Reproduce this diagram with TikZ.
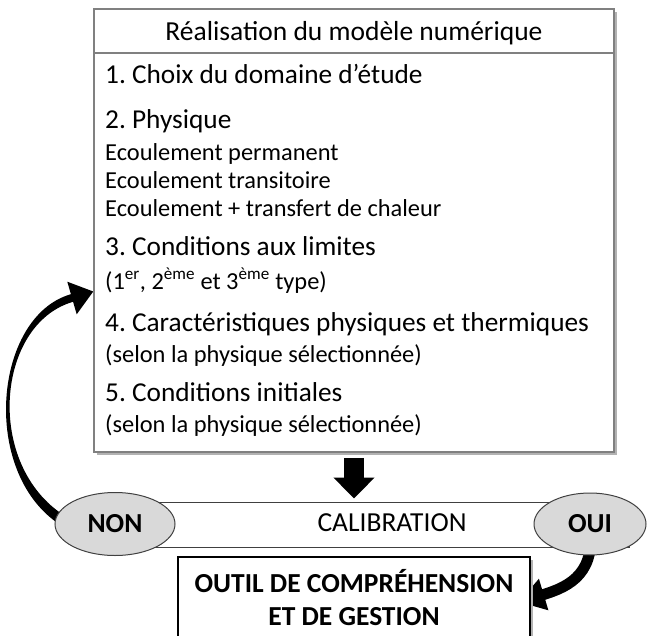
\documentclass[tikz,border=0pt]{standalone}
\usepackage{fontspec}
\setmainfont{Carlito}
\usetikzlibrary{shapes.geometric,arrows.meta}
\pgfdeclarelayer{back}
\pgfsetlayers{back,main}
\definecolor{boxgray}{HTML}{808080}
\definecolor{darkline}{HTML}{404040}
\definecolor{ellfill}{HTML}{D9D9D9}
\tikzset{
  big/.style={font=\fontsize{27.3}{33}\selectfont, anchor=west, inner sep=0pt, text height=19pt, text depth=6pt},
  small/.style={font=\fontsize{24.4}{29}\selectfont, anchor=west, inner sep=0pt, text height=17pt, text depth=5pt},
  ell/.style={ellipse, draw=darkline, line width=1pt, fill=ellfill, inner sep=0pt, font=\fontsize{27.5}{33}\selectfont\bfseries},
  shadowed/.style={preaction={fill=black!30, transform canvas={xshift=3pt, yshift=-3pt}}},
  bigarrow/.style={line width=20pt, -{Triangle[length=21pt, width=40pt]}},
  ouiarrow/.style={line width=11pt, -{Triangle[length=26pt, width=31pt]}},
}
\begin{document}
\frenchspacing
\begin{tikzpicture}[x=1pt, y=-1pt]
\useasboundingbox (0,0) rectangle (647,636);
\clip (0,0) rectangle (647,636);
% main box
\node[draw=boxgray, line width=1.5pt, fill=white, shadowed, minimum width=520pt, minimum height=443pt, inner sep=0pt] (main) at (354,230.5) {};
\draw[boxgray, line width=1.5pt] (main.west |- 0,53) coordinate (sepl) -- (main.east |- 0,53) coordinate (sepr);
\node[font=\fontsize{27.5}{33}\selectfont, inner sep=0pt, text height=19pt, text depth=6pt] (title) at (354,34) {Réalisation du modèle numérique};
\node[big] (t1) at (105,77) {1. Choix du domaine d’étude};
\node[big] (t2) at (105,122.5) {2. Physique};
\node[small] (t2a) at (105,155) {Ecoulement permanent};
\node[small] (t2b) at (105,183) {Ecoulement transitoire};
\node[small] (t2c) at (105,211) {Ecoulement + transfert de chaleur};
\node[big] (t3) at (105,249) {3. Conditions aux limites};
\node[small] (t3a) at (105,283) {(1\textsuperscript{er}, 2\textsuperscript{ème} et 3\textsuperscript{ème} type)};
\node[big] (t4) at (105,324.5) {4. Caractéristiques physiques et thermiques};
\node[small] (t4a) at (105,356.5) {(selon la physique sélectionnée)};
\node[big] (t5) at (105,395) {5. Conditions initiales};
\node[small] (t5a) at (105,426.5) {(selon la physique sélectionnée)};
% calibration
\node[draw=darkline, line width=1pt, fill=white, minimum width=474pt, minimum height=45pt, inner sep=0pt, font=\fontsize{27.5}{33}\selectfont, text height=19pt, text depth=6pt] (calib) at (392,524.5) {CALIBRATION};
\node[ell, minimum width=120pt, minimum height=63pt] (non) at (115,524) {NON};
\node[ell, minimum width=112pt, minimum height=62pt] (oui) at (590,524) {OUI};
% outil
\node[draw=black, line width=1.5pt, fill=white, shadowed, minimum width=352pt, minimum height=81pt, inner sep=0pt, align=center, font=\fontsize{27.5}{33}\selectfont\bfseries] (outil) at (354,597.5) {OUTIL DE COMPRÉHENSION\\ET DE GESTION};
% arrows
\draw[bigarrow] ([yshift=-5pt]main.south) -- ([yshift=3pt]main.south |- calib.north);
\begin{pgfonlayer}{back}
% tapered curved arrow from NON back to the model box
\fill (59.3,524.2) .. controls (-20.2,471.4) and (-6.1,316.2) .. (70.9,294.2)
  -- (67.3,281.7) -- ([yshift=-61pt]main.west) coordinate (nontip) -- (76.7,314.3) -- (73.1,301.8)
  .. controls (-3.9,323.8) and (-15.8,464.6) .. (64.7,515.8) -- (non.center) -- cycle;
\draw[ouiarrow] (oui.center) .. controls (596,572) and (572,586) .. ([xshift=-12pt,yshift=-4.5pt]outil.east);
\end{pgfonlayer}
\end{tikzpicture}
\end{document}
